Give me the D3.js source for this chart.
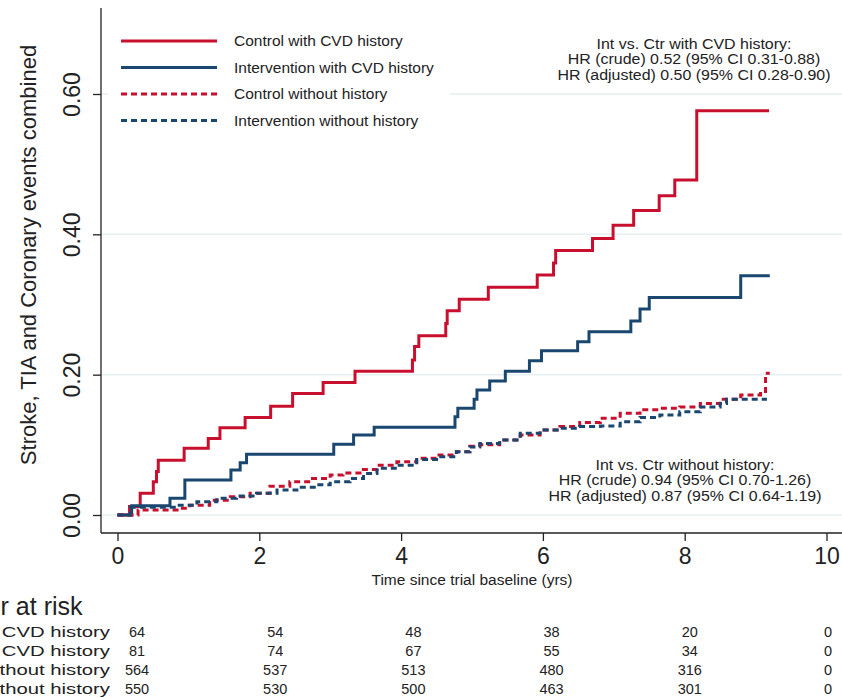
<!DOCTYPE html>
<html>
<head>
<meta charset="utf-8">
<script src="https://cdn.jsdelivr.net/npm/d3@7"></script>
<style>
  body { margin: 0; background: #fff; }
  svg { display: block; font-family: "Liberation Sans", Arial, sans-serif; }
</style>
</head>
<body>
<div id="chart"></div>
<script>
// Kaplan-Meier style cumulative incidence
var ctrlCvdTime = [0, 0.17, 0.32, 0.505, 0.55, 0.575, 0.94, 1.28, 1.445, 1.80, 2.16, 2.47, 2.90, 3.35, 4.16, 4.19, 4.25, 4.63, 4.65, 4.82, 5.23, 5.92, 6.15, 6.18, 6.70, 6.99, 7.28, 7.64, 7.86, 8.17, 9.19];
var ctrlCvdRisk = [0, 0.012, 0.031, 0.0475, 0.062, 0.078, 0.095, 0.109, 0.1245, 0.139, 0.155, 0.173, 0.189, 0.205, 0.221, 0.240, 0.2556, 0.273, 0.291, 0.3075, 0.3245, 0.342, 0.359, 0.377, 0.394, 0.413, 0.434, 0.455, 0.4775, 0.576, 0.576];

var intCvdTime = [0, 0.2, 0.74, 0.95, 1.60, 1.73, 1.82, 3.05, 3.33, 3.62, 4.76, 4.80, 5.03, 5.07, 5.25, 5.47, 5.81, 5.98, 6.49, 6.65, 7.24, 7.37, 7.50, 8.79, 9.2];
var intCvdRisk = [0, 0.0133, 0.0238, 0.050, 0.064, 0.0746, 0.0865, 0.101, 0.114, 0.125, 0.140, 0.152, 0.165, 0.178, 0.191, 0.205, 0.220, 0.234, 0.247, 0.261, 0.2765, 0.2935, 0.310, 0.341, 0.341];

var ctrlNoTime = [0, 0.29, 0.84, 1.02, 1.30, 1.59, 1.87, 2.15, 2.43, 2.72, 3.00, 3.18, 3.42, 3.66, 3.94, 4.22, 4.50, 4.78, 4.97, 5.11, 5.39, 5.68, 5.96, 6.24, 6.52, 6.81, 7.09, 7.37, 7.65, 7.93, 8.22, 8.50, 8.79, 9.07, 9.14, 9.2];
var ctrlNoRisk = [0, 0.007, 0.0095, 0.014, 0.021, 0.026, 0.031, 0.041, 0.0475, 0.052, 0.057, 0.060, 0.065, 0.071, 0.076, 0.081, 0.0855, 0.090, 0.098, 0.100, 0.107, 0.114, 0.121, 0.126, 0.132, 0.138, 0.145, 0.150, 0.152, 0.154, 0.159, 0.165, 0.171, 0.176, 0.202, 0.202];

var intNoTime = [0, 0.18, 0.84, 1.12, 1.40, 1.68, 1.96, 2.25, 2.53, 2.81, 3.00, 3.28, 3.47, 3.66, 3.94, 4.22, 4.50, 4.78, 4.97, 5.11, 5.39, 5.68, 5.96, 6.24, 6.52, 6.81, 7.09, 7.37, 7.65, 7.93, 8.22, 8.50, 8.59, 9.16];
var intNoRisk = [0, 0.011, 0.014, 0.019, 0.024, 0.027, 0.031, 0.0356, 0.0395, 0.043, 0.0475, 0.052, 0.059, 0.0665, 0.071, 0.079, 0.083, 0.090, 0.097, 0.102, 0.107, 0.1165, 0.121, 0.1236, 0.126, 0.127, 0.133, 0.139, 0.1426, 0.147, 0.154, 0.159, 0.165, 0.165];

var seriesNames = ["Control with CVD history", "Intervention with CVD history", "Control without history", "Intervention without history"];

var xTicks = [0, 2, 4, 6, 8, 10];
var yTicks = [0, 0.2, 0.4, 0.6];

// number at risk table
var riskYears = [0, 2, 4, 6, 8, 10];
var atRiskCtrlCvd = [64, 54, 48, 38, 20, 0];
var atRiskIntCvd = [81, 74, 67, 55, 34, 0];
var atRiskCtrlNo = [564, 537, 513, 480, 316, 0];
var atRiskIntNo = [550, 530, 500, 463, 301, 0];

var noteCvd = ["Int vs. Ctr with CVD history:", "HR (crude) 0.52 (95% CI 0.31-0.88)", "HR (adjusted) 0.50 (95% CI 0.28-0.90)"];
var noteNo = ["Int vs. Ctr without history:", "HR (crude) 0.94 (95% CI  0.70-1.26)", "HR (adjusted) 0.87 (95% CI 0.64-1.19)"];

var red = "#c8102e", navy = "#1a476f";

var W = 842, H = 698;
var svg = d3.select("#chart").append("svg")
  .attr("width", W)
  .attr("height", H);

var x = d3.scaleLinear().domain([0, 10]).range([117.5, 826.5]);
var y = d3.scaleLinear().domain([0, 0.6]).range([515, 94]);

var axisX0 = 101, axisY0 = 533;

// gridlines
svg.append("g").selectAll("line")
  .data(yTicks)
  .enter().append("line")
  .attr("x1", axisX0).attr("x2", W)
  .attr("y1", function(d) { return y(d); })
  .attr("y2", function(d) { return y(d); })
  .style("stroke", "#e6eff1")
  .style("stroke-width", 1.5);

// y axis
var yAxis = svg.append("g")
  .attr("transform", "translate(" + axisX0 + ",0)")
  .call(d3.axisLeft(y).tickValues(yTicks).tickSize(8).tickFormat(d3.format(".2f")));
yAxis.select(".domain").remove();
yAxis.selectAll(".tick line").style("stroke", "#222").style("stroke-width", 1.3);
yAxis.selectAll(".tick text")
  .attr("transform", "rotate(-90)")
  .attr("x", 0).attr("y", -21).attr("dy", 0)
  .style("text-anchor", "middle")
  .style("font-size", "23px")
  .style("fill", "#222");
svg.append("line")
  .attr("x1", axisX0).attr("x2", axisX0)
  .attr("y1", 8).attr("y2", axisY0)
  .style("stroke", "#222").style("stroke-width", 1.3);

// x axis
var xAxis = svg.append("g")
  .attr("transform", "translate(0," + axisY0 + ")")
  .call(d3.axisBottom(x).tickValues(xTicks).tickSize(8).tickPadding(7).tickFormat(d3.format("d")));
xAxis.select(".domain").remove();
xAxis.selectAll(".tick line").style("stroke", "#222").style("stroke-width", 1.3);
xAxis.selectAll(".tick text").style("font-size", "23px").style("fill", "#222");
svg.append("line")
  .attr("x1", axisX0).attr("x2", W)
  .attr("y1", axisY0).attr("y2", axisY0)
  .style("stroke", "#222").style("stroke-width", 1.3);

// axis titles
svg.append("text")
  .attr("transform", "translate(36,255) rotate(-90)")
  .style("text-anchor", "middle")
  .style("font-size", "22px")
  .style("fill", "#222")
  .text("Stroke, TIA and Coronary events combined");

svg.append("text")
  .attr("x", 472).attr("y", 585)
  .style("text-anchor", "middle")
  .style("font-size", "15.5px")
  .style("fill", "#222")
  .text("Time since trial baseline (yrs)");

// curves
var series = [
  {t: ctrlCvdTime, v: ctrlCvdRisk, color: red, dash: null},
  {t: intCvdTime, v: intCvdRisk, color: navy, dash: null},
  {t: ctrlNoTime, v: ctrlNoRisk, color: red, dash: "6,4"},
  {t: intNoTime, v: intNoRisk, color: navy, dash: "6,4"}
];

var line = d3.line()
  .x(function(d) { return x(d[0]); })
  .y(function(d) { return y(d[1]); })
  .curve(d3.curveStepAfter);

svg.append("g").selectAll("path")
  .data(series)
  .enter().append("path")
  .attr("d", function(s) { return line(d3.zip(s.t, s.v)); })
  .style("fill", "none")
  .style("stroke", function(s) { return s.color; })
  .style("stroke-width", 3)
  .style("stroke-dasharray", function(s) { return s.dash; });

// legend
var legend = svg.append("g");
legend.append("rect")
  .attr("x", 108).attr("y", 16)
  .attr("width", 342).attr("height", 122)
  .style("fill", "#fff");
var leg = legend.selectAll(".leg")
  .data(series)
  .enter().append("g")
  .attr("transform", function(d, i) { return "translate(0," + (41 + i * 26.5) + ")"; });
leg.append("line")
  .attr("x1", 121).attr("x2", 217)
  .style("stroke", function(s) { return s.color; })
  .style("stroke-width", 3)
  .style("stroke-dasharray", function(s) { return s.dash; });
leg.append("text")
  .attr("x", 234).attr("y", 5)
  .style("font-size", "15.5px")
  .style("fill", "#222")
  .text(function(d, i) { return seriesNames[i]; });

// HR notes (text is a little wide in the original, so stretch it)
function note(lines, cx, y0) {
  svg.append("g").selectAll("text")
    .data(lines)
    .enter().append("text")
    .attr("transform", function(d, i) { return "translate(" + cx + "," + (y0 + i * 15.3) + ") scale(1.1,1)"; })
    .style("text-anchor", "middle")
    .style("font-size", "14.5px")
    .style("fill", "#222")
    .text(function(d) { return d; });
}
note(noteCvd, 694, 49);
note(noteNo, 685, 470);

// number at risk
var xr = d3.scaleLinear().domain([0, 10]).range([137, 828]);
svg.append("text")
  .attr("x", -80).attr("y", 615)
  .style("font-size", "25px")
  .style("fill", "#222")
  .text("Number at risk");

var rows = [atRiskCtrlCvd, atRiskIntCvd, atRiskCtrlNo, atRiskIntNo];
var rowY = d3.scaleLinear().domain([0, 3]).range([637, 694]);
var row = svg.append("g").selectAll("g")
  .data(rows)
  .enter().append("g")
  .attr("transform", function(d, i) { return "translate(0," + rowY(i) + ")"; });
row.append("text")
  .attr("transform", "translate(110,0) scale(1.45,1)")
  .style("text-anchor", "end")
  .style("font-size", "14px")
  .style("fill", "#222")
  .text(function(d, i) { return seriesNames[i]; });
row.selectAll(".n")
  .data(function(d) { return d3.zip(riskYears, d); })
  .enter().append("text")
  .attr("class", "n")
  .attr("x", function(d) { return xr(d[0]); })
  .style("text-anchor", "middle")
  .style("font-size", "14.5px")
  .style("fill", "#222")
  .text(function(d) { return d[1]; });
</script>
</body>
</html>
